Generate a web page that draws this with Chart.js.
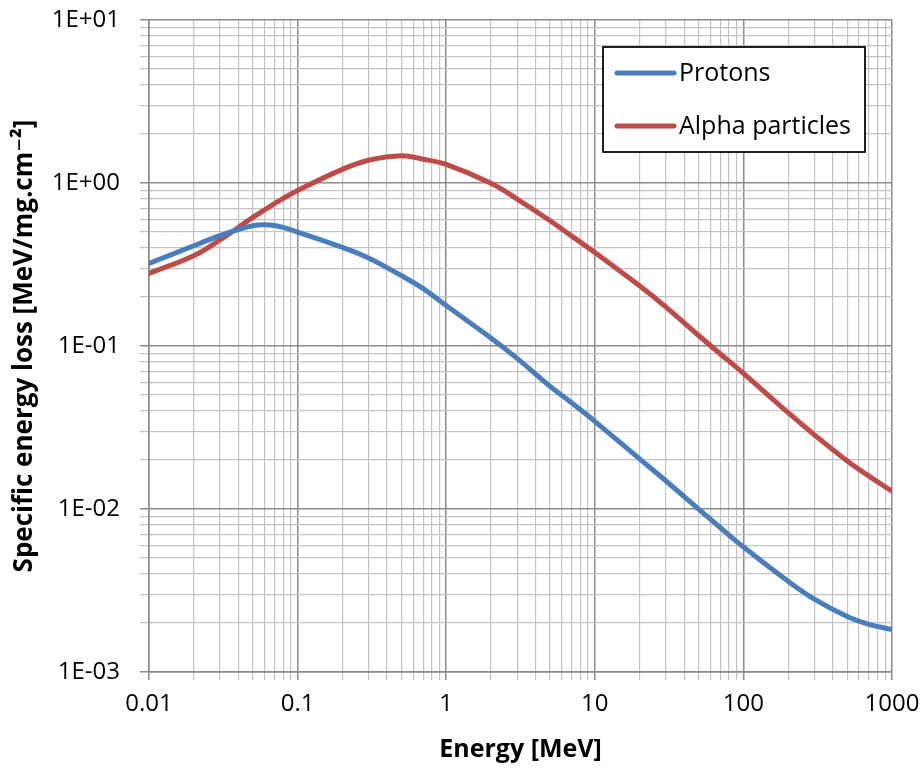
<!DOCTYPE html>
<html>
<head>
<meta charset="utf-8">
<script src="https://cdn.jsdelivr.net/npm/chart.js@4/dist/chart.umd.min.js"></script>
<style>
  html, body { margin: 0; padding: 0; background: #ffffff; }
  #wrap { width: 924px; height: 769px; position: relative; }
</style>
</head>
<body>
<div id="wrap"><canvas id="c" width="924" height="769"></canvas></div>
<script>
// ---- Data ----
const energies = [0.01, 0.02, 0.03, 0.05, 0.07, 0.1, 0.2, 0.3, 0.5, 0.7, 1, 2, 3, 5, 7, 10, 20, 30, 50, 70, 100, 200, 300, 500, 700, 1000];
const protons = [0.321, 0.412, 0.475, 0.547, 0.548, 0.50, 0.403, 0.347, 0.27, 0.225, 0.177, 0.112, 0.0839, 0.0565, 0.0447, 0.0345, 0.0203, 0.0149, 0.00998, 0.00767, 0.00585, 0.0036, 0.0028, 0.00219, 0.00196, 0.00182];
const alphas = [0.279, 0.358, 0.447, 0.615, 0.748, 0.90, 1.213, 1.38, 1.47, 1.40, 1.30, 0.995, 0.797, 0.587, 0.472, 0.375, 0.234, 0.174, 0.116, 0.0893, 0.068, 0.039, 0.0285, 0.0197, 0.0159, 0.01285];
const seriesNames = ['Protons', 'Alpha particles'];

const xDecades = [0.01, 0.1, 1, 10, 100, 1000];
const xTickLabels = ['0.01', '0.1', '1', '10', '100', '1000'];
const yDecades = [0.001, 0.01, 0.1, 1, 10];
const yTickLabels = ['1E-03', '1E-02', '1E-01', '1E+00', '1E+01'];
const minorSteps = [2, 3, 4, 5, 6, 7, 8, 9];

const xTitle = 'Energy [MeV]';
const yTitle = 'Specific energy loss [MeV/mg.cm\u207B\u00B2]';

// ---- helpers ----
function buildTicks(decades) {
  const t = [];
  decades.forEach((d, i) => {
    t.push({ value: d, major: true });
    if (i < decades.length - 1) minorSteps.forEach(m => t.push({ value: d * m, major: false }));
  });
  return t;
}
function labelFor(v, decades, labels) {
  for (let i = 0; i < decades.length; i++) {
    if (Math.abs(v - decades[i]) / decades[i] < 1e-6) return labels[i];
  }
  return '';
}
function isMajor(v, decades) {
  return decades.some(d => Math.abs(v - d) / d < 1e-6);
}

const FONT = "'Open Sans', 'DejaVu Sans', sans-serif";
const MAJOR_COLOR = '#8a8a8a';
const MINOR_COLOR = '#c3c3c3';

const legendPlugin = {
  id: 'boxLegend',
  afterDraw(chart) {
    const ctx = chart.ctx;
    const bx = 603, by = 47, bw = 262, bh = 105;
    ctx.save();
    ctx.fillStyle = '#ffffff';
    ctx.fillRect(bx, by, bw, bh);
    ctx.strokeStyle = '#000000';
    ctx.lineWidth = 1.75;
    ctx.strokeRect(bx, by, bw, bh);
    const rows = [73, 126];
    chart.data.datasets.forEach((ds, i) => {
      const y = rows[i];
      ctx.strokeStyle = ds.borderColor;
      ctx.lineWidth = 5;
      ctx.lineCap = 'round';
      ctx.beginPath();
      ctx.moveTo(617, y);
      ctx.lineTo(674, y);
      ctx.stroke();
      ctx.fillStyle = '#000000';
      ctx.font = '25px ' + FONT;
      ctx.textBaseline = 'middle';
      ctx.textAlign = 'left';
      ctx.fillText(ds.label, 679, y + 1);
    });
    ctx.restore();
  }
};

const toXY = (vals) => energies.map((e, i) => ({ x: e, y: vals[i] }));

new Chart(document.getElementById('c'), {
  type: 'scatter',
  data: {
    datasets: [
      {
        label: seriesNames[0],
        data: toXY(protons),
        showLine: true,
        borderColor: '#4A7EBB',
        backgroundColor: '#4A7EBB',
        borderWidth: 5,
        pointRadius: 0,
        tension: 0.4,
        borderCapStyle: 'round',
        borderJoinStyle: 'round'
      },
      {
        label: seriesNames[1],
        data: toXY(alphas),
        showLine: true,
        borderColor: '#BE4B48',
        backgroundColor: '#BE4B48',
        borderWidth: 5,
        pointRadius: 0,
        tension: 0.4,
        borderCapStyle: 'round',
        borderJoinStyle: 'round'
      }
    ]
  },
  options: {
    responsive: false,
    animation: false,
    devicePixelRatio: 1,
    layout: { padding: { top: 20, right: 32, left: 0, bottom: 0 } },
    plugins: {
      legend: { display: false },
      tooltip: { enabled: false }
    },
    scales: {
      x: {
        type: 'logarithmic',
        min: xDecades[0],
        max: xDecades[xDecades.length - 1],
        afterBuildTicks: (s) => { s.ticks = buildTicks(xDecades); },
        afterFit: (s) => { s.height = 97; s.paddingLeft = 0; s.paddingRight = 0; },
        border: { display: true, color: MAJOR_COLOR, width: 1.5 },
        grid: {
          color: (c) => (c.tick && isMajor(c.tick.value, xDecades)) ? MAJOR_COLOR : MINOR_COLOR,
          lineWidth: (c) => (c.tick && isMajor(c.tick.value, xDecades)) ? 1.5 : 1.2,
          tickColor: (c) => (c.tick && isMajor(c.tick.value, xDecades)) ? MAJOR_COLOR : MINOR_COLOR,
          tickLength: 8,
          drawTicks: true
        },
        ticks: {
          autoSkip: false,
          maxRotation: 0,
          minRotation: 0,
          padding: 10,
          color: '#000000',
          font: { family: FONT, size: 24 },
          callback: (v) => labelFor(v, xDecades, xTickLabels)
        },
        title: {
          display: true,
          text: xTitle,
          color: '#000000',
          font: { family: FONT, size: 25, weight: 'bold' },
          padding: { top: 0, bottom: 4 }
        }
      },
      y: {
        type: 'logarithmic',
        min: yDecades[0],
        max: yDecades[yDecades.length - 1],
        afterBuildTicks: (s) => { s.ticks = buildTicks(yDecades); },
        afterFit: (s) => { s.width = 149; s.paddingTop = 0; s.paddingBottom = 0; },
        border: { display: true, color: MAJOR_COLOR, width: 1.5 },
        grid: {
          color: (c) => (c.tick && isMajor(c.tick.value, yDecades)) ? MAJOR_COLOR : MINOR_COLOR,
          lineWidth: (c) => (c.tick && isMajor(c.tick.value, yDecades)) ? 1.5 : 1.2,
          tickColor: (c) => (c.tick && isMajor(c.tick.value, yDecades)) ? MAJOR_COLOR : MINOR_COLOR,
          tickLength: 9,
          drawTicks: true
        },
        ticks: {
          autoSkip: false,
          padding: 20,
          color: '#000000',
          font: { family: FONT, size: 24 },
          callback: (v) => labelFor(v, yDecades, yTickLabels)
        },
        title: {
          display: true,
          text: yTitle,
          color: '#000000',
          font: { family: FONT, size: 26, weight: 'bold' },
          padding: { top: 9, bottom: 0 }
        }
      }
    }
  },
  plugins: [legendPlugin]
});
</script>
</body>
</html>
